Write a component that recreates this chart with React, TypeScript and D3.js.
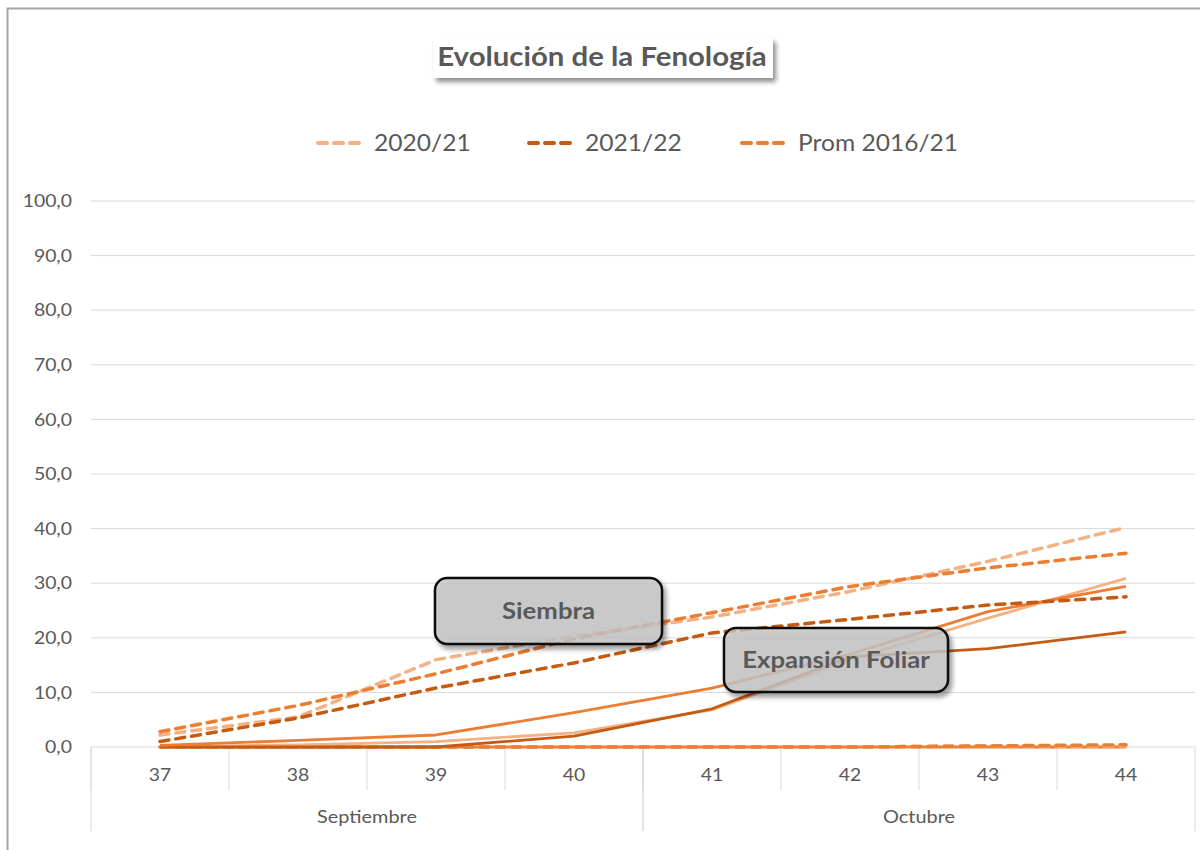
import * as d3 from "d3"

// semanas y meses
const weeks = ["37", "38", "39", "40", "41", "42", "43", "44"]
const months = [
  { name: "Septiembre", from: "37", to: "40" },
  { name: "Octubre", from: "41", to: "44" },
]
const yTicks = [0, 10, 20, 30, 40, 50, 60, 70, 80, 90, 100]

// Siembra (punteadas)
const siembra2020 = [2.2, 5.5, 16.0, 20.3, 23.8, 28.5, 34.0, 40.2]
const siembra2021 = [1.0, 5.3, 10.8, 15.4, 20.9, 23.4, 26.0, 27.5]
const siembraProm = [2.8, 7.6, 13.4, 19.8, 24.6, 29.4, 32.8, 35.5]

// Expansión foliar (continuas)
const foliar2020 = [0.0, 0.4, 1.0, 2.6, 6.8, 16.0, 23.6, 30.9]
const foliar2021 = [0.0, 0.0, 0.0, 2.0, 7.0, 16.5, 18.0, 21.1]
const foliarProm = [0.3, 1.2, 2.2, 6.3, 10.8, 17.0, 24.8, 29.4]

// otras fases, todavía en cero
const otraProm = [0, 0, 0, 0, 0, 0, 0, 0]
const otra2020 = [0, 0, 0, 0, 0, 0, 0.2, 0.2]
const otraPromD = [0, 0, 0, 0, 0, 0, 0.2, 0.4]

const LIGHT = "#F4B183"
const DARK = "#C55A11"
const ORANGE = "#ED7D31"
const TEXT = "#595959"
const FONT = "Lato, 'Open Sans', sans-serif"

const series = [
  { values: otraProm, color: ORANGE, dashed: false },
  { values: otra2020, color: LIGHT, dashed: true },
  { values: otraPromD, color: ORANGE, dashed: true },
  { values: foliar2020, color: LIGHT, dashed: false },
  { values: foliar2021, color: DARK, dashed: false },
  { values: foliarProm, color: ORANGE, dashed: false },
  { values: siembra2020, color: LIGHT, dashed: true },
  { values: siembra2021, color: DARK, dashed: true },
  { values: siembraProm, color: ORANGE, dashed: true },
]

const legend = [
  { label: "2020/21", color: LIGHT, x: 316 },
  { label: "2021/22", color: DARK, x: 527 },
  { label: "Prom 2016/21", color: ORANGE, x: 740 },
]

const callouts = [
  { text: "Siembra", x0: 435, y0: 578, x1: 662, y1: 644 },
  { text: "Expansión Foliar", x0: 724, y0: 628, x1: 948, y1: 692 },
]

// el original está algo ensanchado, así que el texto se estira en x
function T({ x, y, sx = 1.14, anchor = "start", size, bold = false, children }: any) {
  return (
    <text transform={`translate(${x},${y}) scale(${sx},1)`} dy="0.36em" textAnchor={anchor}
      fontSize={size} fontWeight={bold ? "bold" : "normal"} fill={TEXT}>
      {children}
    </text>
  )
}

export default function App() {
  const width = 1200
  const height = 850
  const left = 91, right = 1195, top = 201, bottom = 747

  const x = d3.scaleBand().domain(weeks).range([left, right]).padding(0)
  const y = d3.scaleLinear().domain([0, 100]).range([bottom, top])
  const cx = (w: string) => (x(w) as number) + x.bandwidth() / 2

  const line = d3.line<number>()
    .x((_, i) => cx(weeks[i]))
    .y(d => y(d))

  const dash = "9 7"

  return (
    <svg width={width} height={height} style={{ position: "absolute", left: 0, top: 0, fontFamily: FONT }}>
      <defs>
        <filter id="shadow" x="-10%" y="-20%" width="130%" height="160%">
          <feGaussianBlur in="SourceAlpha" stdDeviation="2.5" />
          <feOffset dx="3" dy="4" result="b" />
          <feComponentTransfer><feFuncA type="linear" slope="0.45" /></feComponentTransfer>
          <feMerge><feMergeNode /><feMergeNode in="SourceGraphic" /></feMerge>
        </filter>
      </defs>
      <rect x={0} y={0} width={width} height={height} fill="#fff" />
      {/* borde del área del gráfico */}
      <path d={`M7.5,${height} V8.5 H${width}`} fill="none" stroke="#A6A6A6" strokeWidth={2} />

      {/* título */}
      <rect x={433} y={38} width={340} height={40} fill="#fff" filter="url(#shadow)" />
      <T x={602} y={57} anchor="middle" size={26} sx={1.13} bold>Evolución de la Fenología</T>

      {/* leyenda */}
      {legend.map(l => (
        <g key={l.label}>
          <line x1={l.x + 2} x2={l.x + 50} y1={143} y2={143} stroke={l.color} strokeWidth={4}
            strokeDasharray="9 7" strokeLinecap="round" />
          <T x={l.x + 58} y={143} size={23} sx={1.07}>{l.label}</T>
        </g>
      ))}

      {/* rejilla */}
      {yTicks.map(t => (
        <g key={t}>
          <line x1={left} x2={right} y1={y(t)} y2={y(t)} stroke="#D9D9D9" strokeWidth={1} />
          <T x={72} y={y(t)} anchor="end" size={17}>
            {d3.format(".1f")(t).replace(".", ",")}
          </T>
        </g>
      ))}

      {/* eje de categorías */}
      {weeks.map(w => (
        <g key={w}>
          <line x1={x(w) as number} x2={x(w) as number} y1={bottom} y2={790} stroke="#D9D9D9" />
          <T x={cx(w)} y={775} anchor="middle" size={17}>{w}</T>
        </g>
      ))}
      {months.map(m => {
        const a = x(m.from) as number
        const b = (x(m.to) as number) + x.bandwidth()
        return (
          <g key={m.name}>
            <line x1={a} x2={a} y1={bottom} y2={831} stroke="#D9D9D9" />
            <line x1={b} x2={b} y1={bottom} y2={831} stroke="#D9D9D9" />
            <T x={(a + b) / 2} y={817} anchor="middle" size={17} sx={1.17}>{m.name}</T>
          </g>
        )
      })}

      {/* series */}
      {series.map((s, i) => (
        <path key={i} d={line(s.values) as string} fill="none" stroke={s.color}
          strokeWidth={s.dashed ? 3.5 : 2.8} strokeDasharray={s.dashed ? dash : undefined}
          strokeLinecap={s.dashed ? "round" : "butt"} strokeLinejoin="round" />
      ))}

      {/* llamadas */}
      {callouts.map(c => (
        <g key={c.text}>
          <rect x={c.x0} y={c.y0} width={c.x1 - c.x0} height={c.y1 - c.y0} rx={12} ry={12}
            fill="#C8C8C8" fillOpacity={0.78} stroke="#111" strokeWidth={2.5} filter="url(#shadow)" />
          <T x={(c.x0 + c.x1) / 2} y={(c.y0 + c.y1) / 2} anchor="middle" size={23} sx={1.12} bold>
            {c.text}
          </T>
        </g>
      ))}
    </svg>
  )
}
